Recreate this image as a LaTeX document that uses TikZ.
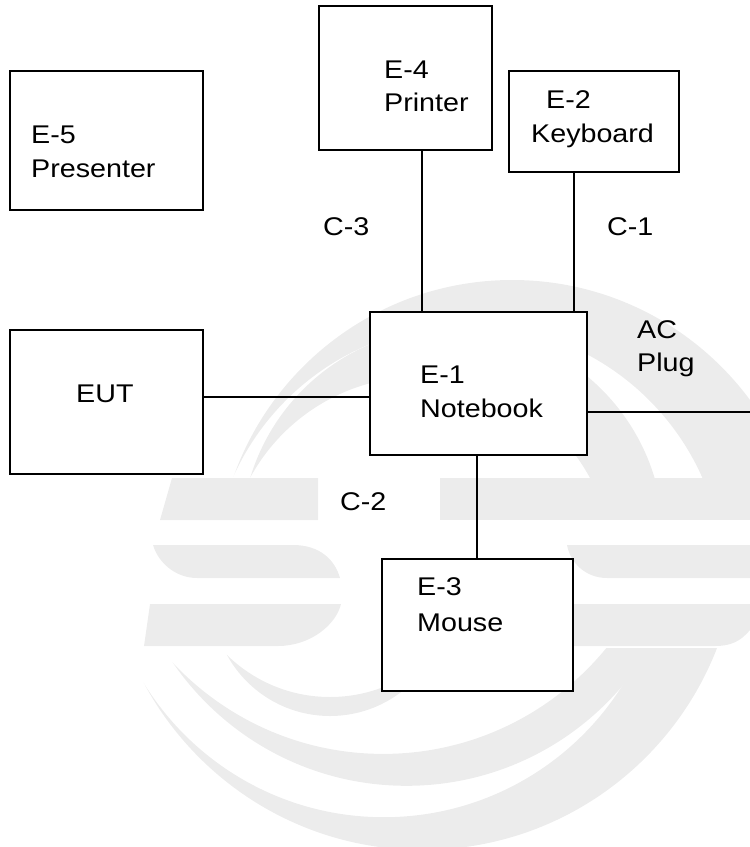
\documentclass[tikz,border=0pt]{standalone}
\usepackage{fontspec}
\setmainfont[FakeStretch=1.12]{Liberation Sans}
\usepackage{tikz}
\usetikzlibrary{positioning, calc}
\definecolor{wmgray}{RGB}{236, 236, 236}

\begin{document}
\begin{tikzpicture}[x=1pt, y=-1pt, font=\fontsize{25.6}{34}\selectfont,
    unit/.style={draw, fill=white, line width=1.8pt, inner sep=0pt},
    lbl/.style={anchor=base west, inner sep=0pt},
    cable/.style={line width=1.5pt},
    wm/.style={fill=wmgray}]
  \useasboundingbox (0,0) rectangle (750,847);
  % watermark: upper arcs
  \begin{scope}
    \clip (0,0) rectangle (750,478);
    \clip (512.2,575.6) circle[radius=295.6pt];
    \fill[wm, even odd rule] (-5,-5) rectangle (755,852) (467.6,581.5) circle[radius=256.6pt];
  \end{scope}
  \begin{scope}
    \clip (0,0) rectangle (750,478);
    \clip (452.4,538.7) circle[radius=211.1pt];
    \fill[wm, even odd rule] (-5,-5) rectangle (755,852) (420,570) circle[radius=193.3pt];
  \end{scope}
  % watermark: bars
  \fill[wm] (172,478) -- (318,478) -- (318,520) -- (160,520) -- cycle;
  \fill[wm] (440,478) rectangle (750,520);
  \fill[wm] (153,545) -- (293,545) .. controls (320,545) and (335,560) .. (340,578)
            -- (197,578) .. controls (175,578) and (158,562) .. (153,545) -- cycle;
  \fill[wm] (567,545) -- (750,545) -- (750,578) -- (607,578)
            .. controls (585,578) and (570,562) .. (567,545) -- cycle;
  \fill[wm] (150,604) -- (341,604) .. controls (336,625) and (310,646) .. (278,646)
            -- (144,646) -- cycle;
  \fill[wm] (560,604) -- (750,604) -- (750,630) .. controls (740,642) and (730,646) .. (715,646)
            -- (560,646) -- cycle;
  % watermark: lower arcs
  \begin{scope}
    \clip (0,648) rectangle (750,847);
    \clip (330,598.5) circle[radius=117.5pt];
    \fill[wm, even odd rule] (-5,-5) rectangle (755,852) (330,549.7) circle[radius=147.3pt];
  \end{scope}
  \begin{scope}
    \clip (0,648) rectangle (750,847);
    \clip (406.5,502.6) circle[radius=283.2pt];
    \fill[wm, even odd rule] (-5,-5) rectangle (755,852) (383.1,465.7) circle[radius=288.2pt];
  \end{scope}
  \begin{scope}
    \clip (0,648) rectangle (750,847);
    \clip (422.4,534.1) circle[radius=315.8pt];
    \fill[wm, even odd rule] (-5,-5) rectangle (755,852) (383.8,535.3) circle[radius=281.9pt];
  \end{scope}
  % equipment boxes
  \node[unit, minimum width=193pt, minimum height=139pt] (pres) at (106.5, 140.5) {};
  \node[unit, minimum width=173pt, minimum height=144pt] (prn) at (405.5, 78) {};
  \node[unit, minimum width=170pt, minimum height=101pt] (kbd) at (594, 121.5) {};
  \node[unit, minimum width=193pt, minimum height=144pt] (eut) at (106.5, 402) {};
  \node[unit, minimum width=217pt, minimum height=143pt] (nb) at (478.5, 383.5) {};
  \node[unit, minimum width=191pt, minimum height=132pt] (mouse) at (477.5, 625) {};
  % box texts
  \node[lbl] (pres1) at (31, 143) {E-5};
  \node[lbl] (pres2) at (31, 177) {Presenter};
  \node[lbl] (prn1) at (384, 78) {E-4};
  \node[lbl] (prn2) at (384, 111) {Printer};
  \node[lbl] (kbd1) at (546, 108) {E-2};
  \node[lbl] (kbd2) at (531, 142) {Keyboard};
  \node[lbl] (eut1) at (76, 402) {EUT};
  \node[lbl] (nb1) at (420, 383) {E-1};
  \node[lbl] (nb2) at (420, 417) {Notebook};
  \node[lbl] (mouse1) at (417, 595) {E-3};
  \node[lbl] (mouse2) at (417, 631) {Mouse};
  % cable labels
  \node[lbl] (c3) at (323, 235) {C-3};
  \node[lbl] (c1) at (607, 235) {C-1};
  \node[lbl] (c2) at (340, 510) {C-2};
  \node[lbl] (ac1) at (637, 338) {AC};
  \node[lbl] (ac2) at (637, 371) {Plug};
  % cables
  \coordinate (mains) at (750, 412);
  \draw[cable] ([xshift=16.5pt]prn.south) -- ([xshift=16.5pt]prn.south |- nb.north);
  \draw[cable] ([xshift=-20pt]kbd.south) -- ([xshift=-20pt]kbd.south |- nb.north);
  \draw[cable] ([yshift=5pt]eut.east) -- ([yshift=5pt]eut.east -| nb.west);
  \draw[cable] ([xshift=-1.5pt]nb.south) -- ([xshift=-1.5pt]nb.south |- mouse.north);
  \draw[cable] (nb.east |- mains) -- (mains);
\end{tikzpicture}
\end{document}
